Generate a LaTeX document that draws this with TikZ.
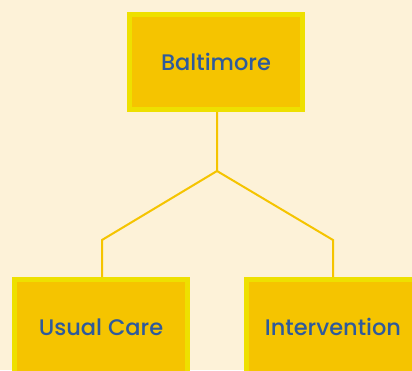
\documentclass[tikz,border=0pt]{standalone}
\usepackage{fontspec}
\setmainfont{Poppins}[UprightFont=* Medium]
\definecolor{bgcream}{RGB}{253,242,216}
\definecolor{boxfill}{RGB}{245,196,0}
\definecolor{boxedge}{RGB}{238,224,0}
\definecolor{textblue}{RGB}{46,90,156}
\tikzset{
  groupbox/.style={draw=boxedge, fill=boxfill, line width=5pt, minimum width=173pt, minimum height=95pt, text=textblue, font=\fontsize{22.5}{26}\selectfont},
  branch/.style={draw=boxfill, line width=2pt}
}
\begin{document}
\begin{tikzpicture}[x=1pt, y=1pt]
	
	\clip (0,0) rectangle (412,-370);
	\fill[bgcream] (0,0) rectangle (412,-370);
	
	\node[groupbox] (B) at (216,-62) {Baltimore};
	\node[groupbox] (U) at (101,-327) {Usual Care};
	\node[groupbox] (I) at (333,-327) {Intervention};
	
	\coordinate (s) at (217,-171);
	\coordinate (u) at (102,-240);
	\coordinate (i) at (333,-240);
	
	\draw[branch] (B.south -| s) -- (s) -- (u) -- (U.north -| u);
	\draw[branch] (s) -- (i) -- (I.north);
	
\end{tikzpicture}
\end{document}
